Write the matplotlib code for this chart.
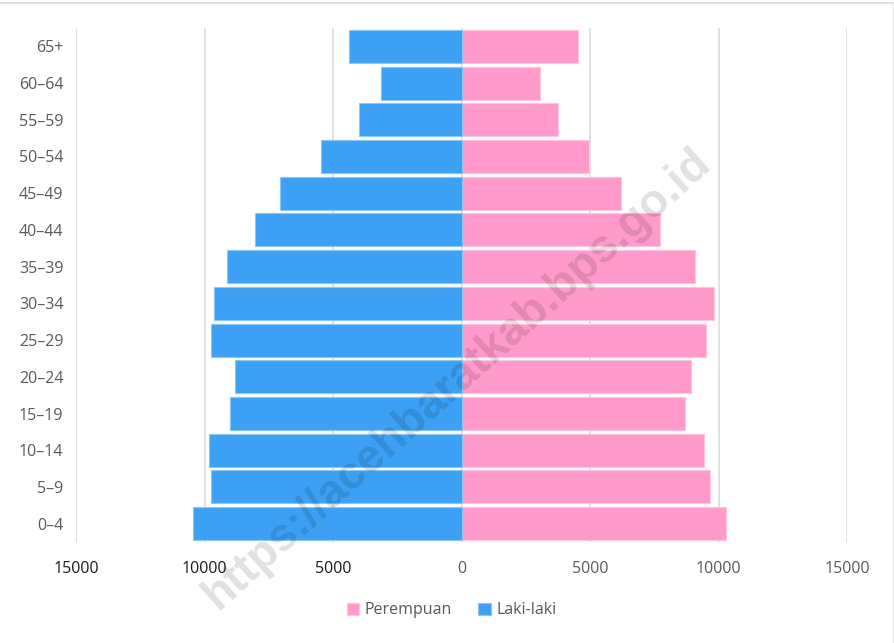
import numpy as np
import matplotlib
matplotlib.use("Agg")
import matplotlib.pyplot as plt
from matplotlib.lines import Line2D

plt.rcParams["font.family"] = ["Open Sans", "DejaVu Sans"]

# age groups, bottom to top
groups = ["0–4", "5–9", "10–14", "15–19", "20–24", "25–29", "30–34",
          "35–39", "40–44", "45–49", "50–54", "55–59", "60–64", "65+"]
laki = [10450, 9740, 9810, 9020, 8800, 9760, 9620,
        9110, 8050, 7050, 5450, 4000, 3150, 4390]
perempuan = [10300, 9650, 9430, 8700, 8910, 9510, 9810,
             9100, 7740, 6210, 4950, 3750, 3050, 4530]
xticks = [-15000, -10000, -5000, 0, 5000, 10000, 15000]

blue = "#3ca0f4"
pink = "#ff9aca"

fig = plt.figure(figsize=(8.94, 6.43), dpi=100)
ax = fig.add_axes([0.085, 0.157, 0.8625, 0.7995])

y = np.arange(len(groups))
ax.barh(y, perempuan, height=0.9, color=pink, edgecolor="#ffc4e0",
        linewidth=0.8, label="Perempuan", zorder=3)
ax.barh(y, [-v for v in laki], height=0.9, color=blue, edgecolor="#8cc6f7",
        linewidth=0.8, label="Laki-laki", zorder=3)

ax.set_xlim(-15000, 15000)
ax.set_ylim(-0.5, len(groups) - 0.5)
ax.set_xticks(xticks)
ax.set_xticklabels([str(abs(t)) for t in xticks])
ax.set_yticks(y)
ax.set_yticklabels(groups)
ax.grid(axis="x", color="#d9d9d9", linewidth=1.1, zorder=0)
ax.set_axisbelow(True)
for s in ax.spines.values():
    s.set_visible(False)
ax.tick_params(axis="both", length=0, labelsize=11.5, colors="#595959")
ax.tick_params(axis="x", pad=14)
ax.tick_params(axis="y", pad=9)
for lbl, t in zip(ax.get_xticklabels(), xticks):
    if t < 0:
        lbl.set_color("#1a1a1a")

handles, labels = ax.get_legend_handles_labels()
fig.legend(handles, labels, loc="center", bbox_to_anchor=(0.505, 0.051),
           ncol=2, frameon=False, fontsize=11.5, handlelength=0.8,
           handleheight=0.8, handletextpad=0.35, columnspacing=1.6,
           labelcolor="#595959")

# container border (top and right)
fig.add_artist(Line2D([0, 0.999], [0.995, 0.995], color="#d9d9d9", lw=1.2))
fig.add_artist(Line2D([0.999, 0.999], [0.995, 0], color="#e6e6e6", lw=1))

# watermark
fig.text(0.512, 0.411, "https://acehbaratkab.bps.go.id", fontsize=33,
         fontweight="bold", family="Liberation Sans", color="black",
         alpha=0.12, rotation=42, ha="center", va="center", zorder=10)

fig.savefig("out.png", dpi=100)
